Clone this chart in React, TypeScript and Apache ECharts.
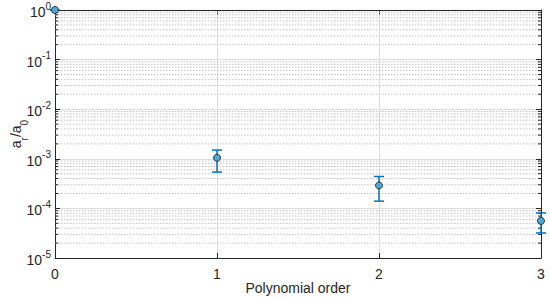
import React, { useEffect, useRef } from "react";
import * as echarts from "echarts";

const orders = [0, 1, 2, 3];
const coefRatio = [1, 1.05e-3, 2.9e-4, 5.6e-5];
const upperBound = [1, 1.5e-3, 4.4e-4, 8.1e-5];
const lowerBound = [1, 5.4e-4, 1.4e-4, 3.2e-5];
const decades = [-5, -4, -3, -2, -1, 0];

const FONT = "Liberation Sans, Arial, Helvetica, sans-serif";

export default function App() {
  const ref = useRef<HTMLDivElement>(null);
  useEffect(() => {
    if (!ref.current) return;
    const chart = echarts.init(ref.current, undefined, { renderer: "svg" });

    const minorVals: number[] = [];
    decades.slice(0, -1).forEach((d) => {
      for (let k = 2; k <= 9; k++) minorVals.push(k * Math.pow(10, d));
    });

    const supLabel = (v: number) => {
      const e = Math.round(Math.log10(v));
      return "{b|10}{s|" + e + "}";
    };
    const rich = {
      b: { fontSize: 14, fontFamily: FONT, color: "#262626", verticalAlign: "bottom", lineHeight: 18 },
      s: { fontSize: 10, fontFamily: FONT, color: "#262626", verticalAlign: "top", lineHeight: 18, padding: [0, 0, 6, 0] },
    };

    const option: any = {
      animation: false,
      grid: { left: 55, right: 9, top: 10, bottom: 42, show: false, containLabel: false, outerBoundsMode: "none" },
      xAxis: [
        {
          type: "value",
          min: 0,
          max: 3,
          interval: 1,
          name: "Polynomial order",
          nameLocation: "middle",
          nameGap: 23,
          nameMoveOverlap: false,
          nameTextStyle: { fontSize: 14, fontFamily: FONT, color: "#262626" },
          axisLine: { onZero: false, lineStyle: { color: "#262626", width: 1 } },
          axisTick: { inside: true, length: 5, lineStyle: { color: "#262626" } },
          axisLabel: { fontSize: 14, fontFamily: FONT, color: "#262626", margin: 9 },
          splitLine: { show: true, lineStyle: { color: "#dcdcdc", width: 1 } },
        },
        {
          type: "value",
          position: "top",
          min: 0,
          max: 3,
          interval: 1,
          axisLine: { onZero: false, lineStyle: { color: "#262626", width: 1 } },
          axisTick: { inside: true, length: 5, lineStyle: { color: "#262626" } },
          axisLabel: { show: false },
          splitLine: { show: false },
        },
      ],
      yAxis: [
        {
          type: "log",
          logBase: 10,
          min: 1e-5,
          max: 1,
          name: "{m|a}{sub|r}{m|/a}{sub|0}",
          nameLocation: "middle",
          nameRotate: 90,
          nameGap: 26,
          nameMoveOverlap: false,
          nameTextStyle: {
            fontSize: 14,
            fontFamily: FONT,
            color: "#262626",
            rich: {
              m: { fontSize: 14, fontFamily: FONT, color: "#262626", verticalAlign: "top", lineHeight: 20 },
              sub: { fontSize: 10, fontFamily: FONT, color: "#262626", verticalAlign: "bottom", lineHeight: 20 },
            },
          },
          axisLine: { onZero: false, lineStyle: { color: "#262626", width: 1 } },
          axisTick: { inside: true, length: 5, lineStyle: { color: "#262626" } },
          axisLabel: { formatter: supLabel, rich, margin: 4 },
          splitLine: { show: true, lineStyle: { color: "#dcdcdc", width: 1 } },
        },
        {
          type: "log",
          logBase: 10,
          min: 1e-5,
          max: 1,
          position: "right",
          axisLine: { onZero: false, lineStyle: { color: "#262626", width: 1 } },
          axisTick: { inside: true, length: 5, lineStyle: { color: "#262626" } },
          axisLabel: { show: false },
          splitLine: { show: false },
        },
      ],
      series: [
        {
          type: "custom",
          name: "minor",
          xAxisIndex: 0,
          yAxisIndex: 0,
          silent: true,
          clip: true,
          z: 1,
          data: minorVals.map((v) => [0, v]),
          renderItem: (params: any, api: any) => {
            const cs = params.coordSys;
            const y = api.coord([0, api.value(1)])[1];
            return {
              type: "group",
              children: [
                {
                  type: "line",
                  shape: { x1: cs.x, y1: y, x2: cs.x + cs.width, y2: y },
                  style: { stroke: "#c4c4c4", lineWidth: 1, lineDash: [1.5, 1.5] },
                },
                {
                  type: "line",
                  shape: { x1: cs.x, y1: y, x2: cs.x + 3, y2: y },
                  style: { stroke: "#262626", lineWidth: 1 },
                },
                {
                  type: "line",
                  shape: { x1: cs.x + cs.width - 3, y1: y, x2: cs.x + cs.width, y2: y },
                  style: { stroke: "#262626", lineWidth: 1 },
                },
              ],
            };
          },
        },
        {
          type: "custom",
          name: "errorbars",
          xAxisIndex: 0,
          yAxisIndex: 0,
          clip: false,
          z: 5,
          data: orders.map((o, i) => [o, lowerBound[i], upperBound[i]]),
          renderItem: (params: any, api: any) => {
            const x = api.value(0);
            const lo = api.coord([x, api.value(1)]);
            const hi = api.coord([x, api.value(2)]);
            const cap = 5;
            const st = { stroke: "#0072BD", lineWidth: 1.5 };
            return {
              type: "group",
              children: [
                { type: "line", shape: { x1: lo[0], y1: lo[1], x2: hi[0], y2: hi[1] }, style: st },
                { type: "line", shape: { x1: lo[0] - cap, y1: lo[1], x2: lo[0] + cap, y2: lo[1] }, style: st },
                { type: "line", shape: { x1: hi[0] - cap, y1: hi[1], x2: hi[0] + cap, y2: hi[1] }, style: st },
              ],
            };
          },
        },
        {
          type: "scatter",
          name: "ratio",
          xAxisIndex: 0,
          yAxisIndex: 0,
          clip: false,
          z: 6,
          symbol: "circle",
          symbolSize: 7,
          itemStyle: { color: "#4DA8DA", borderColor: "#333333", borderWidth: 1, opacity: 1 },
          data: orders.map((o, i) => [o, coefRatio[i]]),
        },
      ],
    };
    chart.setOption(option);
    return () => chart.dispose();
  }, []);
  return (
    <div
      ref={ref}
      style={{ position: "fixed", left: 0, top: 0, width: 550, height: 300, background: "#ffffff" }}
    />
  );
}
